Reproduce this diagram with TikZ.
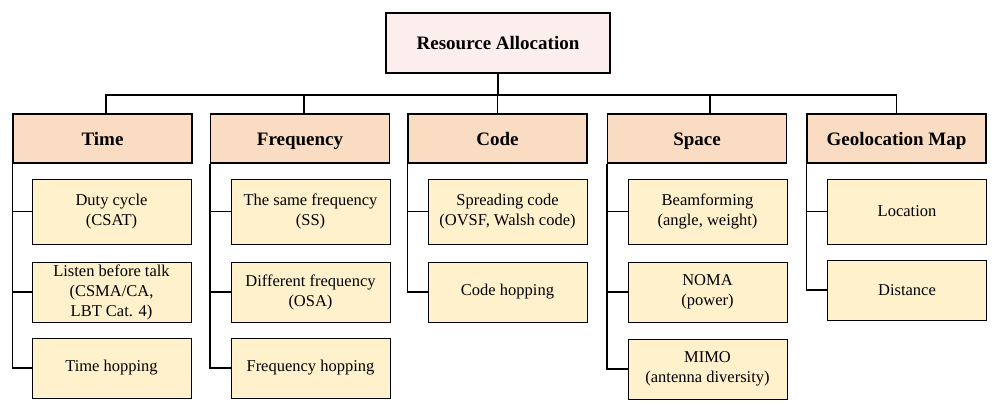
\documentclass[tikz,border=0pt]{standalone}
\usepackage{fontspec}
\setmainfont{Liberation Serif}
\usepackage{tikz}
\usetikzlibrary{positioning}

\definecolor{rootpink}{HTML}{FDEEEE}
\definecolor{catpeach}{HTML}{FADCC2}
\definecolor{itemcream}{HTML}{FFF1CC}

\begin{document}
\begin{tikzpicture}[
    x=1pt, y=-1pt,
    every node/.style={font=\fontsize{16.5}{20}\selectfont},
    rootbox/.style={draw, line width=1.1pt, fill=rootpink,
        minimum width=224pt, minimum height=60pt,
        font=\fontsize{19}{22}\selectfont\bfseries},
    catbox/.style={draw, line width=1.1pt, fill=catpeach,
        minimum width=179pt, minimum height=49pt,
        text height=13pt, text depth=0pt,
        font=\fontsize{19}{22}\selectfont\bfseries},
    itembox/.style={draw, line width=0.9pt, fill=itemcream,
        minimum width=159pt, minimum height=60pt,
        align=center, inner sep=1pt},
    link/.style={line width=1.2pt}
]

\useasboundingbox (0,0) rectangle (996,415);

% Root
\node[rootbox] (root) at (498,43) {Resource Allocation};
\coordinate (bus) at (0,95);

% Categories
\node[catbox] (time) at (102.5,138.5) {Time};
\node[catbox] (freq) at (300,138.5) {Frequency};
\node[catbox] (code) at (497.5,138.5) {Code};
\node[catbox] (space) at (697,138.5) {Space};
\node[catbox] (geo) at (896.5,138.5) {Geolocation Map};

\draw[link] (root.south) -- (root.south |- bus);
\draw[link] (root.south |- bus) -| ([xshift=3.5pt]time.north);
\draw[link] (root.south |- bus) -| ([xshift=4pt]freq.north);
\draw[link] (root.south |- bus) -| (code.north);
\draw[link] (root.south |- bus) -| ([xshift=13pt]space.north);
\draw[link] (root.south |- bus) -| (geo.north);

% Time
\node[itembox, minimum height=65pt] (tduty) at (111.5,211.5)
    {Duty cycle\\(CSAT)};
\node[itembox] (tlbt) at (111.5,292)
    {Listen before talk\\(CSMA/CA,\\LBT Cat. 4)};
\node[itembox] (thop) at (111.5,368)
    {Time hopping};

\draw[link] (time.south west) |- (tduty.west);
\draw[link] (time.south west) |- (tlbt.west);
\draw[link] (time.south west) |- (thop.west);

% Frequency
\node[itembox, minimum height=65pt] (fsame) at (310.5,211.5)
    {The same frequency\\(SS)};
\node[itembox] (fdiff) at (310.5,292)
    {Different frequency\\(OSA)};
\node[itembox] (fhop) at (310.5,368)
    {Frequency hopping};

\draw[link] (freq.south west) |- (fsame.west);
\draw[link] (freq.south west) |- (fdiff.west);
\draw[link] (freq.south west) |- (fhop.west);

% Code
\node[itembox, minimum height=65pt] (cspread) at (507.5,211.5)
    {Spreading code\\(OVSF, Walsh code)};
\node[itembox] (chop) at (507.5,292)
    {Code hopping};

\draw[link] (code.south west) |- (cspread.west);
\draw[link] (code.south west) |- (chop.west);

% Space
\node[itembox, minimum height=65pt] (sbeam) at (707.5,211.5)
    {Beamforming\\(angle, weight)};
\node[itembox] (snoma) at (707.5,292)
    {NOMA\\(power)};
\node[itembox] (smimo) at (707.5,369)
    {MIMO\\(antenna diversity)};

\draw[link] (space.south west) |- (sbeam.west);
\draw[link] (space.south west) |- (snoma.west);
\draw[link] (space.south west) |- (smimo.west);

% Geolocation map
\node[itembox, minimum height=65pt] (gloc) at (907,211.5)
    {Location};
\node[itembox] (gdist) at (907,290)
    {Distance};

\draw[link] (geo.south west) |- (gloc.west);
\draw[link] (geo.south west) |- (gdist.west);

\end{tikzpicture}
\end{document}
